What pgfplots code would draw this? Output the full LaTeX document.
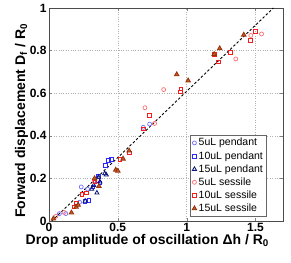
\documentclass[border=0pt]{standalone}
\usepackage{pgfplots}
\pgfplotsset{compat=1.18}
\usepackage{fontspec}
\setmainfont{Liberation Sans}
\definecolor{cA}{RGB}{110,110,255}
\definecolor{cB}{RGB}{40,40,255}
\definecolor{cC}{RGB}{10,20,120}
\definecolor{cD}{RGB}{255,110,110}
\definecolor{cE}{RGB}{240,30,30}
\definecolor{cF}{RGB}{150,50,10}
\definecolor{cFf}{RGB}{200,90,40}
\begin{document}
\begin{tikzpicture}
\begin{axis}[
  scale only axis, width=234pt, height=213pt,
  xmin=0, xmax=1.7, ymin=0, ymax=1,
  xtick={0,0.5,1,1.5}, ytick={0,0.2,0.4,0.6,0.8,1},
  xticklabels={\textbf{0},\textbf{0.5},\textbf{1},\textbf{1.5}},
  yticklabels={\textbf{0},\textbf{0.2},\textbf{0.4},\textbf{0.6},\textbf{0.8},\textbf{1}},
  tick align=inside, tick pos=both, major tick length=3pt,
  ticklabel style={font=\fontsize{12}{14}\selectfont},
  xticklabel style={yshift=1pt},
  yticklabel style={xshift=1pt},
  grid=major, grid style={dotted, gray!60},
  axis line style={black!70},
  xlabel={\textbf{Drop amplitude of oscillation Δh / R\textsubscript{0}}},
  ylabel={\textbf{Forward displacement D\textsubscript{f} / R\textsubscript{0}}},
  label style={font=\fontsize{14}{16}\selectfont},
  xlabel style={at={(ticklabel cs:0.42)}, yshift=5pt},
  ylabel style={at={(ticklabel cs:0.47)}, yshift=-5pt},
  legend style={at={(0.93,0.02)}, anchor=south east, font=\fontsize{10.5}{12}\selectfont, draw=black!60, row sep=0pt, inner sep=1.5pt},
  legend cell align=left,
  legend image code/.code={\draw[#1] (0.2cm,0cm) plot coordinates {(0.2cm,0cm)};},
  only marks,
]
\addplot[cA, mark=o, mark size=2pt, line width=0.7pt, mark options={solid}] coordinates {
(0.0755,0.0345) (0.122,0.035) (0.234,0.16) (0.222,0.088) (0.28,0.15) (0.685,0.44) (0.731,0.455)
};
\addlegendentry{5uL pendant}
\addplot[cB, mark=square, mark size=1.8pt, line width=0.7pt, mark options={solid}] coordinates {
(0.26,0.093) (0.29,0.097) (0.41,0.26) (0.43,0.284) (0.453,0.289) (0.35,0.19) (0.36,0.21) (0.37,0.18) (0.32,0.16)
};
\addlegendentry{10uL pendant}
\addplot[cC, mark=triangle, mark size=2.4pt, line width=0.8pt, mark options={solid}] coordinates {
(0.263,0.094) (0.31,0.15) (0.325,0.168) (0.348,0.132) (0.36,0.207) (0.37,0.184) (0.405,0.223) (0.416,0.217)
};
\addlegendentry{15uL pendant}
\addplot[cD, mark=o, mark size=2pt, line width=0.7pt, mark options={solid}] coordinates {
(0.05,0.022) (0.11,0.04) (0.697,0.532) (0.767,0.458) (0.833,0.617) (1.357,0.761) (1.466,0.871) (1.544,0.878) (0.33,0.19)
};
\addlegendentry{5uL sessile}
\addplot[cE, mark=square, mark size=1.8pt, line width=0.7pt, mark options={solid}] coordinates {
(0.2,0.086) (0.18,0.066) (0.24,0.126) (0.27,0.132) (0.334,0.184) (0.685,0.433) (0.73,0.496) (0.514,0.289) (0.582,0.32) (0.957,0.62) (0.953,0.606) (1.23,0.747) (1.318,0.791) (1.462,0.848) (1.5,0.889) (1.2,0.782)
};
\addlegendentry{10uL sessile}
\addplot[cF, mark=triangle*, mark size=2.6pt, line width=0.8pt, mark options={solid, fill=cFf}] coordinates {
(0.032,0.011) (0.163,0.039) (0.197,0.066) (0.212,0.075) (0.331,0.2) (0.363,0.163) (0.485,0.24) (0.5,0.235) (0.538,0.292) (0.582,0.33) (0.928,0.688) (1.011,0.659) (1.2,0.783) (1.24,0.81) (1.415,0.874)
};
\addlegendentry{15uL sessile}
\addplot[black, sharp plot, no marks, line width=0.9pt, dash pattern=on 2.5pt off 2pt, forget plot] coordinates {(0.02,0) (1.63,1)};
\end{axis}
\path (current axis.south west) ++(-49pt,-41pt) (current axis.north east) ++(8pt,8pt);
\end{tikzpicture}
\end{document}
